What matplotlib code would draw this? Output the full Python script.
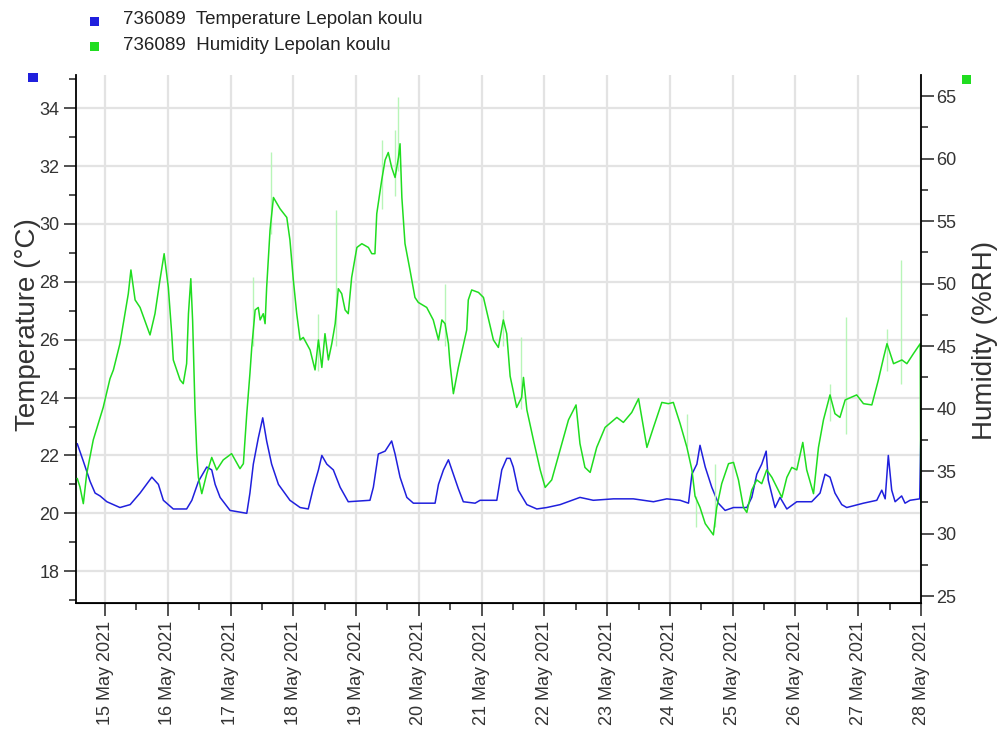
import numpy as np
import pandas as pd
import matplotlib
matplotlib.use('Agg')
import matplotlib.pyplot as plt
import matplotlib.dates as mdates
from matplotlib.ticker import MultipleLocator
from matplotlib.patches import Rectangle

plt.rcParams['font.family'] = ['Liberation Sans', 'DejaVu Sans']

# readings, time in hours from 14 May 2021 00:00
temp_hours = [13.4, 15.7, 18.3, 20.2, 22.1, 24.7, 29.7, 33.6, 37.4, 41.9, 44.4, 46.3, 50.1, 55.2,
              57.2, 59.7, 62.9, 64.8, 66.1, 68.0, 71.8, 78.2, 79.4, 80.7, 82.6, 84.3, 85.8, 87.7,
              90.3, 94.7, 98.6, 101.7, 103.7, 105.6, 106.9, 108.8, 111.3, 113.9, 117.0, 125.3,
              126.6, 128.5, 131.1, 133.6, 134.9, 136.8, 139.4, 141.9, 150.2, 151.5, 153.4, 155.3,
              157.2, 159.1, 161.0, 165.5, 167.4, 173.8, 175.7, 177.6, 178.9, 180.1, 182.0, 185.3,
              189.1, 192.9, 198.0, 205.6, 210.7, 218.4, 226.0, 233.7, 238.8, 243.9, 247.1, 248.4,
              250.3, 251.5, 253.5, 256.0, 258.5, 261.1, 264.3, 269.4, 271.3, 273.2, 275.1, 276.8,
              277.6, 280.2, 282.1, 284.7, 288.5, 294.2, 297.4, 299.3, 301.2, 303.1, 305.7, 307.6,
              314.0, 319.1, 321.0, 322.3, 323.5, 324.8, 326.1, 328.6, 329.9, 331.8, 335.5, 336.0]
temp_vals = [22.4, 21.8, 21.1, 20.7, 20.6, 20.4, 20.2, 20.3, 20.7, 21.25, 21.0, 20.45, 20.15, 20.15,
             20.45, 21.1, 21.6, 21.5, 21.0, 20.55, 20.1, 20.0, 20.7, 21.7, 22.6, 23.3, 22.5, 21.7,
             21.0, 20.45, 20.2, 20.15, 20.9, 21.5, 22.0, 21.7, 21.5, 20.9, 20.4, 20.45,
             20.9, 22.05, 22.15, 22.5, 22.05, 21.25, 20.55, 20.35, 20.35, 21.0, 21.5, 21.85,
             21.35, 20.85, 20.4, 20.35, 20.45, 20.45, 21.5, 21.9, 21.9, 21.6, 20.8, 20.3,
             20.15, 20.2, 20.3, 20.55, 20.45, 20.5, 20.5, 20.4, 20.5, 20.45, 20.35, 21.35,
             21.7, 22.35, 21.6, 20.9, 20.35, 20.1, 20.2, 20.2, 20.55, 21.35, 21.7, 22.15,
             21.15, 20.2, 20.55, 20.15, 20.4, 20.4, 20.7, 21.35, 21.25, 20.7, 20.3, 20.2,
             20.35, 20.45, 20.8, 20.5, 22.0, 20.8, 20.4, 20.6, 20.35, 20.45, 20.5, 23.0]

hum_hours = [13.4, 14.4, 15.7, 17.0, 19.5, 23.3, 25.9, 27.2, 29.7, 31.6, 32.9, 33.9, 35.5, 37.4,
             41.2, 43.1, 45.0, 46.6, 48.2, 49.5, 50.1, 52.7, 53.9, 55.2, 55.9, 56.8, 57.5, 58.4,
             59.1, 59.7, 61.0, 62.9, 64.8, 66.7, 69.2, 72.4, 75.6, 76.9, 78.2, 79.4, 80.1, 81.4,
             82.6, 83.3, 84.5, 85.2, 85.8, 87.1, 88.4, 90.9, 93.5, 94.7, 96.0, 97.3, 98.6, 99.8,
             102.4, 104.3, 105.6, 106.9, 108.1, 109.4, 110.7, 112.0, 113.2, 114.5, 115.8, 117.0,
             118.3, 120.3, 122.2, 124.7, 126.0, 127.2, 127.9, 129.8, 131.1, 132.3, 133.6, 134.9,
             136.2, 136.8, 137.5, 138.7, 140.6, 142.5, 143.8, 147.0, 149.5, 151.5, 152.8, 154.0,
             155.3, 155.9, 157.2, 159.1, 162.3, 162.9, 164.2, 166.8, 168.7, 170.6, 172.5, 174.4,
             176.3, 177.6, 178.9, 181.4, 183.3, 184.0, 185.3, 187.8, 190.4, 192.3, 194.8, 198.0,
             201.2, 204.1, 205.6, 207.5, 209.5, 212.0, 215.2, 219.7, 222.2, 225.4, 228.0, 229.9,
             231.2, 233.7, 236.9, 239.4, 241.3, 243.9, 246.5, 248.4, 249.6, 251.5, 253.5, 256.6,
             257.9, 259.8, 262.4, 264.3, 266.2, 268.1, 269.4, 271.3, 273.2, 275.1, 277.0, 279.0,
             280.9, 282.8, 284.7, 286.6, 288.5, 290.8, 292.3, 294.9, 296.8, 298.7, 301.2, 303.1,
             305.0, 307.0, 311.4, 314.0, 317.2, 319.7, 321.7, 323.0, 325.5, 328.7, 330.6, 333.1,
             335.7, 336.0]
hum_vals = [34.4, 33.75, 32.4, 34.8, 37.5, 40.1, 42.4, 43.1, 45.2, 47.6, 49.2, 51.1, 48.7, 48.1,
            45.9, 47.6, 50.3, 52.4, 49.7, 46.0, 43.9, 42.3, 42.0, 43.6, 47.6, 50.4, 47.0, 40.0,
            36.4, 34.5, 33.2, 34.8, 36.1, 35.1, 35.9, 36.4, 35.2, 35.6, 39.6, 42.8, 44.9, 47.9,
            48.1, 47.1, 47.6, 46.8, 49.7, 54.3, 56.9, 56.0, 55.3, 53.5, 50.3, 47.6, 45.5, 45.7,
            44.7, 43.1, 45.5, 43.3, 46.0, 43.9, 45.2, 46.8, 49.6, 49.2, 47.9, 47.6,
            50.5, 52.9, 53.2, 52.9, 52.4, 52.4, 55.6, 58.3, 59.9, 60.5, 59.3, 58.5,
            60.1, 61.2, 56.9, 53.2, 51.1, 48.9, 48.5, 48.1, 47.1, 45.5, 47.1, 46.8,
            45.2, 43.6, 41.2, 43.3, 46.3, 48.7, 49.5, 49.3, 48.9, 47.2, 45.5, 44.9,
            47.1, 46.0, 42.6, 40.1, 40.9, 42.5, 39.9, 37.5, 35.1, 33.7, 34.3, 36.7,
            39.1, 40.3, 37.2, 35.3, 34.9, 36.9, 38.5, 39.3, 38.9, 39.7, 40.8, 38.5,
            36.9, 38.5, 40.5, 40.4, 40.5, 38.8, 36.9, 35.1, 33.0, 32.1, 30.8, 29.9,
            32.1, 34.0, 35.6, 35.7, 34.3, 32.1, 31.7, 33.5, 34.3, 34.0, 35.1, 34.5,
            33.7, 32.9, 34.5, 35.3, 35.1, 37.3, 35.1, 33.2, 36.9, 39.1, 41.1, 39.6,
            39.3, 40.7, 41.1, 40.4, 40.3, 42.3, 44.1, 45.2, 43.6, 43.9, 43.6, 44.4,
            45.2, 28.0]

# faint min/max excursions of humidity
spike_hours = [80.7, 87.6, 105.6, 112.4, 129.8, 134.9, 136.2, 154.0, 176.3, 183.1, 246.5, 249.9,
               257.3, 301.2, 307.3, 323.0, 328.5]
spike_lo = [45.0, 54.0, 43.0, 45.0, 56.0, 57.0, 59.0, 45.0, 45.0, 40.0, 37.0, 30.5,
            30.5, 39.0, 38.0, 43.0, 42.0]
spike_hi = [50.5, 60.5, 47.6, 55.9, 61.5, 62.3, 64.9, 50.0, 47.9, 45.7, 39.6, 33.0,
            35.6, 42.0, 47.3, 46.4, 51.9]

base = pd.Timestamp('2021-05-14')
t_temp = base + pd.to_timedelta(temp_hours, unit='h')
t_hum = base + pd.to_timedelta(hum_hours, unit='h')
t_spk = base + pd.to_timedelta(spike_hours, unit='h')

blue = '#2020dd'
green = '#20dd20'

fig = plt.figure(figsize=(10.03, 7.33), dpi=100)
ax = fig.add_axes([76 / 1003, 1 - 603 / 733, 845 / 1003, 528 / 733])
ax2 = ax.twinx()

ax.plot(t_temp, temp_vals, color=blue, lw=1.1)
ax2.vlines(t_spk, spike_lo, spike_hi, color='#b8f5b8', lw=1.0)
ax2.plot(t_hum, hum_vals, color=green, lw=1.1)

ax.set_xlim(base + pd.Timedelta(hours=12.9), base + pd.Timedelta(hours=336))
ax.set_ylim(16.9, 35.15)
ax2.set_ylim(24.45, 66.7)

ax.xaxis.set_major_locator(mdates.DayLocator())
ax.xaxis.set_minor_locator(mdates.HourLocator(byhour=[12]))
ax.xaxis.set_major_formatter(mdates.DateFormatter('%d %b %Y'))
ax.yaxis.set_major_locator(MultipleLocator(2))
ax.yaxis.set_minor_locator(MultipleLocator(1))
ax2.yaxis.set_major_locator(MultipleLocator(5))
ax2.yaxis.set_minor_locator(MultipleLocator(2.5))

ax.grid(True, which='major', color='#e3e3e3', lw=1.6)
ax.set_axisbelow(True)

for a in (ax, ax2):
    a.spines['top'].set_visible(False)
    a.tick_params(which='major', length=9, width=1.2, labelsize=13, colors='#333333')
    a.tick_params(which='minor', length=5, width=1.2, colors='#333333')
ax2.spines['left'].set_visible(False)
ax.spines['right'].set_visible(False)
for s in ('left', 'bottom'):
    ax.spines[s].set_linewidth(1.3)
ax2.spines['right'].set_linewidth(1.3)
ax.tick_params(axis='x', labelrotation=90, pad=4)
ax.tick_params(axis='y', pad=3)
ax2.tick_params(axis='y', pad=2)

fig.text(28 / 1003, 1 - 325 / 733, 'Temperature (°C)', rotation=90, ha='center', va='center',
         fontsize=20, color='#333333')
fig.text(985 / 1003, 1 - 340 / 733, 'Humidity (%RH)', rotation=90, ha='center', va='center',
         fontsize=20, color='#333333')

# legend and axis markers
for (cx, cy, c) in [(95, 21, blue), (95, 46, green), (33, 77, blue), (967, 79, green)]:
    fig.add_artist(Rectangle(((cx - 4.5) / 1003, 1 - (cy + 4.5) / 733), 9 / 1003, 9 / 733,
                             transform=fig.transFigure, color=c, lw=0))
fig.text(123 / 1003, 1 - 20 / 733, '736089  Temperature Lepolan koulu', fontsize=13.5,
         va='center', color='#222222')
fig.text(123 / 1003, 1 - 45 / 733, '736089  Humidity Lepolan koulu', fontsize=13.5,
         va='center', color='#222222')

plt.savefig('out.png', dpi=100)
plt.close()
